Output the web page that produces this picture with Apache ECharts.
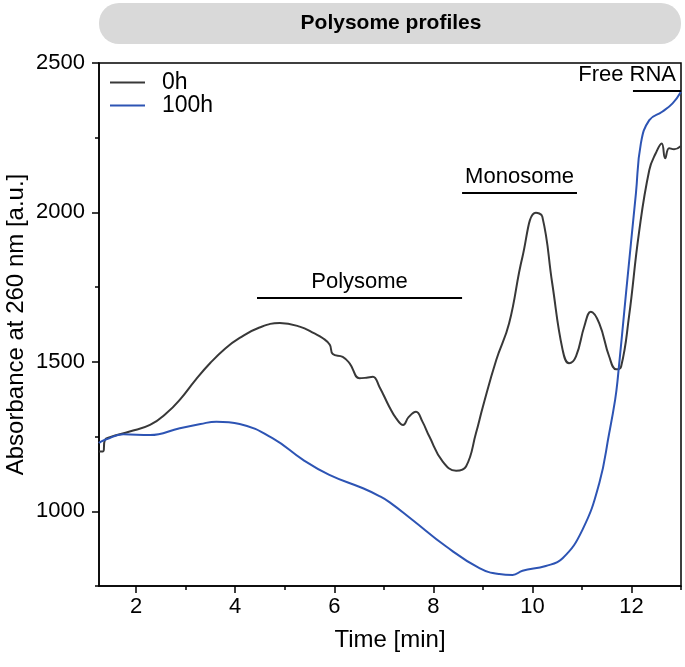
<!DOCTYPE html>
<html><head><meta charset="utf-8">
<script src="https://cdn.jsdelivr.net/npm/echarts@6/dist/echarts.min.js"></script>
<style>html,body{margin:0;padding:0;background:#fff}#c{width:685px;height:667px}</style>
</head><body><div id="c"></div>
<script>
// ---- data ----
const time0h = [1.25,1.33,1.37,1.47,1.87,2.28,2.61,2.88,3.2,3.5,3.8,4.09,4.49,4.9,5.3,5.6,5.77,5.91,5.97,6.17,6.31,6.51,6.65,6.78,6.91,7.11,7.25,7.39,7.5,7.65,7.78,7.92,8.19,8.46,8.66,8.86,9.0,9.27,9.53,9.8,10.07,10.2,10.4,10.61,10.74,10.88,11.05,11.18,11.35,11.55,11.69,11.79,11.95,12.15,12.36,12.49,12.61,12.68,12.76,12.86,13.0];
const abs0h  = [1200,1200,1239,1248,1267,1289,1328,1373,1440,1497,1545,1580,1615,1630,1618,1595,1579,1557,1526,1517,1495,1445,1447,1450,1417,1350,1311,1289,1315,1333,1300,1250,1166,1136,1150,1261,1350,1506,1629,1852,1999,1986,1763,1540,1495,1518,1620,1668,1629,1518,1475,1484,1651,1930,2142,2198,2231,2181,2215,2211,2222];
const time100h = [1.25,1.27,1.4,1.74,2.28,2.88,3.3,3.62,4.09,4.76,5.37,5.9,6.58,6.91,7.12,7.58,8.26,8.93,9.33,9.6,9.8,10.27,10.61,11.01,11.35,11.55,11.67,11.72,11.89,12.09,12.19,12.36,12.62,12.83,13.0];
const abs100h  = [1228,1231,1241,1258,1255,1278,1292,1300,1292,1244,1172,1122,1077,1051,1030,971,882,810,790,787,801,817,843,938,1094,1261,1373,1439,1730,2064,2231,2309,2337,2365,2404];
const seriesNames = ['0h','100h'];
const xMajorTicks = [2,4,6,8,10,12];
const xMinorTicks = [3,5,7,9,11,13];
const yMajorTicks = [1000,1500,2000,2500];
const yMinorTicks = [750,1250,1750,2250];
const regions = [
  {name:'Polysome', from:4.44, to:8.58, level:1715, pos:'insideMiddleTop'},
  {name:'Monosome', from:8.58, to:10.9, level:2065, pos:'insideMiddleTop'},
  {name:'Free RNA', from:12.03, to:13.0, level:2406, pos:'insideEndTop'}
];
const titleText = 'Polysome profiles';

// ---- chart ----
const FONT = 'Liberation Sans';
const chart = echarts.init(document.getElementById('c'), null, {renderer:'canvas'});
const zip = (a,b) => a.map((v,i)=>[v,b[i]]);
const X0 = 1.25, X1 = 13, Y0 = 750, Y1 = 2500;
const axisLine = {show:true, lineStyle:{color:'#000', width:1.5}};
chart.setOption({
  animation:false,
  textStyle:{fontFamily:FONT},
  graphic:[
    {type:'rect', shape:{x:99, y:3, width:582, height:41, r:20}, style:{fill:'#d9d9d9'}, z:0},
    {type:'text', x:391, y:23, style:{text:titleText, font:'bold 21px '+FONT, fill:'#000', align:'center', verticalAlign:'middle'}}
  ],
  grid:{left:99, right:4, top:63, bottom:81, show:true, borderColor:'#000', borderWidth:1.5, containLabel:false, outerBoundsMode:'none'},
  legend:{
    orient:'vertical', left:105, top:66, itemWidth:35, itemHeight:2, itemGap:0, icon:'rect',
    data:seriesNames,
    textStyle:{fontFamily:FONT, fontSize:23, color:'#000', padding:[0,0,0,12]}
  },
  xAxis:[
    {type:'value', min:X0, max:X1, position:'bottom',
     name:'Time [min]', nameLocation:'middle', nameGap:42, nameMoveOverlap:false,
     nameTextStyle:{fontFamily:FONT, fontSize:24, color:'#000'},
     axisLine:axisLine, splitLine:{show:false},
     axisTick:{show:true, inside:false, length:7, lineStyle:{color:'#000', width:1.5}, customValues:xMajorTicks},
     axisLabel:{customValues:xMajorTicks, margin:10, fontFamily:FONT, fontSize:22, color:'#000'}},
    {type:'value', min:X0, max:X1, position:'bottom',
     axisLine:{show:false}, splitLine:{show:false},
     axisTick:{show:true, inside:false, length:4, lineStyle:{color:'#000', width:1.5}, customValues:xMinorTicks},
     axisLabel:{show:false}}
  ],
  yAxis:[
    {type:'value', min:Y0, max:Y1, position:'left',
     name:'Absorbance at 260 nm [a.u.]', nameLocation:'middle', nameGap:71, nameRotate:90, nameMoveOverlap:false,
     nameTextStyle:{fontFamily:FONT, fontSize:24, color:'#000'},
     axisLine:axisLine, splitLine:{show:false},
     axisTick:{show:true, inside:false, length:7, lineStyle:{color:'#000', width:1.5}, customValues:yMajorTicks},
     axisLabel:{customValues:yMajorTicks, margin:14, fontFamily:FONT, fontSize:22, color:'#000', formatter:v=>String(v)}},
    {type:'value', min:Y0, max:Y1, position:'left',
     axisLine:{show:false}, splitLine:{show:false},
     axisTick:{show:true, inside:false, length:4, lineStyle:{color:'#000', width:1.5}, customValues:yMinorTicks},
     axisLabel:{show:false}}
  ],
  series:[
    {name:seriesNames[0], type:'line', data:zip(time0h, abs0h), symbol:'none', smooth:0.45,
     itemStyle:{color:'#383838'}, lineStyle:{color:'#383838', width:2}, z:3},
    {name:seriesNames[1], type:'line', data:zip(time100h, abs100h), symbol:'none', smooth:0.45,
     itemStyle:{color:'#2d54b4'}, lineStyle:{color:'#2d54b4', width:2}, z:4},
    {name:'regions', type:'line', data:[], symbol:'none',
     markLine:{silent:true, symbol:['none','none'], animation:false,
       lineStyle:{color:'#000', width:2, type:'solid'},
       data: regions.map(r=>[
         {coord:[r.from, r.level], label:{show:true, formatter:r.name, position:r.pos, distance:5, fontFamily:FONT, fontSize:22, color:'#000'}},
         {coord:[r.to, r.level]}
       ])}}
  ]
});
</script></body></html>
